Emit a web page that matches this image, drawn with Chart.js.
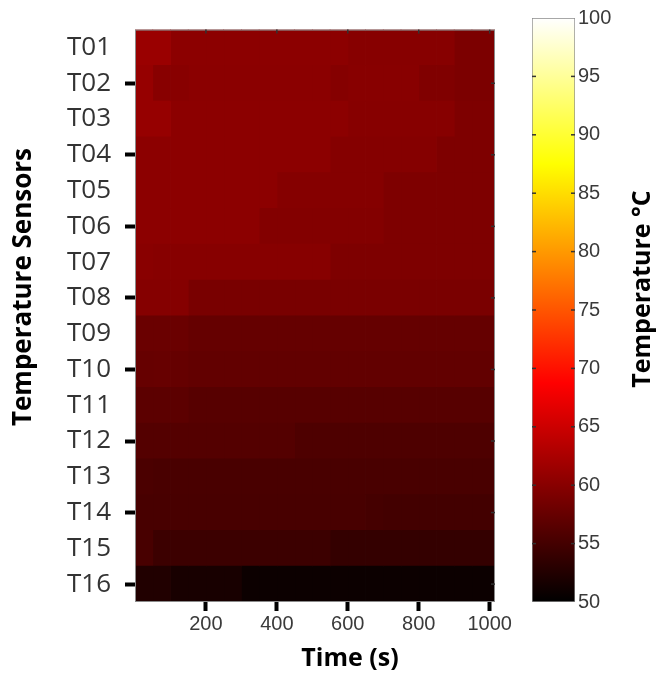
<!DOCTYPE html>
<html lang="en">
<head>
  <meta charset="UTF-8">
  <title>Temperature Sensors - Heat Map</title>
  <script src="https://cdn.jsdelivr.net/npm/chart.js"></script>
  <style>
    body { margin: 0; background: #fff; }
    #heatChart { position: absolute; left: 0; top: 0; }
    #barChart { position: absolute; left: 520px; top: 0; }
  </style>
</head>
<body>
  <canvas id="heatChart" width="520" height="677"></canvas>
  <canvas id="barChart" width="140" height="677"></canvas>

  <script>
    // Sensors (rows) and time columns (start of each 50 s column)
    const sensors = ['T01', 'T02', 'T03', 'T04', 'T05', 'T06', 'T07', 'T08',
                     'T09', 'T10', 'T11', 'T12', 'T13', 'T14', 'T15', 'T16'];
    const timeStarts = [0, 50, 100, 150, 200, 250, 300, 350, 400, 450,
                        500, 550, 600, 650, 700, 750, 800, 850, 900, 950];
    const timeEnd = 1015;
    const xTicks = [200, 400, 600, 800, 1000];
    const barTicks = [50, 55, 60, 65, 70, 75, 80, 85, 90, 95, 100];

    // Temperatures (°C) per sensor, one value per time column
    const t01 = [61.3, 61.3, 60.3, 60.3, 60.3, 60.3, 60.3, 60.3, 60.3, 60.3, 60.3, 60.3, 59.9, 59.9, 59.9, 59.9, 59.9, 59.9, 59.1, 59.1];
    const t02 = [61.0, 60.0, 60.0, 60.2, 60.2, 60.2, 60.2, 60.2, 60.2, 60.2, 60.2, 59.8, 60.0, 60.0, 60.0, 60.0, 59.4, 59.4, 59.1, 59.1];
    const t03 = [61.0, 61.0, 60.3, 60.3, 60.3, 60.3, 60.3, 60.3, 60.3, 60.3, 60.3, 60.3, 59.9, 59.9, 59.9, 59.9, 59.9, 59.9, 59.3, 59.3];
    const t04 = [60.3, 60.3, 60.3, 60.3, 60.3, 60.3, 60.3, 60.3, 60.3, 60.3, 60.3, 59.8, 59.8, 59.8, 59.8, 59.8, 59.8, 59.3, 59.3, 59.3];
    const t05 = [60.3, 60.3, 60.3, 60.3, 60.3, 60.3, 60.3, 60.3, 59.8, 59.8, 59.8, 59.8, 59.8, 59.8, 59.3, 59.3, 59.3, 59.3, 59.3, 59.3];
    const t06 = [60.3, 60.3, 60.3, 60.3, 60.3, 60.3, 60.3, 59.6, 59.6, 59.6, 59.6, 59.6, 59.6, 59.6, 59.3, 59.3, 59.3, 59.3, 59.3, 59.3];
    const t07 = [60.1, 59.9, 59.9, 59.9, 59.9, 59.9, 59.9, 59.9, 59.9, 59.9, 59.9, 59.3, 59.3, 59.3, 59.3, 59.3, 59.3, 59.3, 59.3, 59.3];
    const t08 = [59.8, 59.8, 59.8, 58.9, 58.9, 58.9, 58.9, 58.9, 58.9, 58.9, 58.9, 59.0, 59.0, 59.0, 59.0, 59.0, 59.0, 59.0, 59.0, 59.0];
    const t09 = [57.8, 57.8, 57.8, 57.4, 57.4, 57.4, 57.4, 57.4, 57.4, 57.4, 57.4, 57.4, 57.4, 57.4, 57.4, 57.4, 57.4, 57.4, 57.4, 57.4];
    const t10 = [57.5, 57.6, 57.4, 57.2, 57.2, 57.2, 57.2, 57.2, 57.2, 57.2, 57.2, 57.2, 57.2, 57.2, 57.2, 57.2, 57.2, 57.2, 57.2, 57.2];
    const t11 = [56.8, 56.8, 56.8, 56.4, 56.4, 56.4, 56.4, 56.4, 56.4, 56.4, 56.4, 56.4, 56.4, 56.4, 56.4, 56.4, 56.4, 56.4, 56.4, 56.4];
    const t12 = [56.2, 56.2, 56.2, 56.2, 56.2, 56.2, 56.2, 56.2, 56.2, 55.7, 55.7, 55.7, 55.7, 55.7, 55.7, 55.7, 55.7, 55.7, 55.7, 55.7];
    const t13 = [55.5, 55.4, 55.4, 55.4, 55.4, 55.4, 55.4, 55.4, 55.4, 55.4, 55.4, 55.4, 55.4, 55.4, 55.4, 55.4, 55.4, 55.4, 55.4, 55.4];
    const t14 = [55.3, 55.3, 55.3, 55.3, 55.3, 55.3, 55.3, 55.3, 55.3, 55.3, 55.3, 55.3, 55.3, 55.1, 54.9, 54.9, 54.9, 54.9, 54.9, 54.9];
    const t15 = [55.3, 54.4, 54.4, 54.4, 54.4, 54.4, 54.4, 54.4, 54.4, 54.4, 54.4, 53.8, 53.8, 53.8, 53.8, 53.8, 53.8, 53.8, 53.8, 53.8];
    const t16 = [52.4, 52.4, 51.8, 51.8, 51.8, 51.8, 50.9, 50.9, 50.9, 50.9, 50.9, 50.9, 50.9, 50.9, 50.9, 50.9, 50.9, 50.9, 50.9, 50.9];

    const rows = [t01, t02, t03, t04, t05, t06, t07, t08, t09, t10, t11, t12, t13, t14, t15, t16];
    const tMin = 50, tMax = 100;

    // "hot" colormap: black -> red -> yellow -> white
    function hot(v) {
      const f = Math.min(1, Math.max(0, (v - tMin) / (tMax - tMin)));
      const r = Math.min(1, f / 0.375);
      const g = Math.min(1, Math.max(0, (f - 0.375) / 0.375));
      const b = Math.max(0, (f - 0.75) / 0.25);
      return `rgb(${Math.round(r * 255)}, ${Math.round(g * 255)}, ${Math.round(b * 255)})`;
    }

    // one floating-bar dataset per time column
    const datasets = timeStarts.map((t0, c) => {
      const t1 = c + 1 < timeStarts.length ? timeStarts[c + 1] : timeEnd;
      return {
        data: rows.map(() => [t0, t1]),
        backgroundColor: rows.map(r => hot(r[c])),
        grouped: false,
        barPercentage: 1,
        categoryPercentage: 1,
        borderWidth: 0,
        inflateAmount: 0.4
      };
    });

    function rotatedText(ctx, text, x, y, font) {
      ctx.save();
      ctx.translate(x, y);
      ctx.rotate(-Math.PI / 2);
      ctx.fillStyle = '#000';
      ctx.font = font;
      ctx.textAlign = 'center';
      ctx.textBaseline = 'middle';
      ctx.fillText(text, 0, 0);
      ctx.restore();
    }

    // frame, small inward ticks and axis titles on the heat map
    const frameTicks = {
      id: 'frameTicks',
      afterDatasetsDraw(chart) {
        const { ctx, chartArea: a, scales } = chart;
        ctx.save();
        ctx.strokeStyle = '#8a8a8a';
        ctx.lineWidth = 1;
        ctx.strokeRect(a.left + 0.5, a.top + 0.5, a.right - a.left - 1, a.bottom - a.top - 1);
        ctx.strokeStyle = '#333';
        ctx.lineWidth = 1.5;
        xTicks.forEach(v => {
          const x = scales.x.getPixelForValue(v);
          ctx.beginPath(); ctx.moveTo(x, a.top); ctx.lineTo(x, a.top + 4); ctx.stroke();
        });
        sensors.forEach((s, i) => {
          if (i % 2 === 0) return;
          const y = scales.y.getPixelForValue(i);
          ctx.beginPath(); ctx.moveTo(a.right - 4, y); ctx.lineTo(a.right, y); ctx.stroke();
        });
        ctx.restore();
      },
      afterDraw(chart) {
        const { ctx } = chart;
        rotatedText(ctx, 'Temperature Sensors', 24, 287, 'bold 26px "Open Sans", sans-serif');
        ctx.save();
        ctx.fillStyle = '#000';
        ctx.font = 'bold 25px "Open Sans", sans-serif';
        ctx.textAlign = 'center';
        ctx.textBaseline = 'middle';
        ctx.fillText('Time (s)', 350, 659);
        ctx.restore();
      }
    };

    new Chart(document.getElementById('heatChart'), {
      type: 'bar',
      data: { labels: sensors, datasets: datasets },
      plugins: [frameTicks],
      options: {
        indexAxis: 'y',
        responsive: false,
        animation: false,
        layout: { padding: { top: 18, right: 25, left: 0, bottom: 0 } },
        plugins: { legend: { display: false }, tooltip: { enabled: false } },
        scales: {
          x: {
            type: 'linear',
            min: 0,
            max: timeEnd,
            afterBuildTicks: axis => { axis.ticks = xTicks.map(v => ({ value: v })); },
            afterFit: axis => { axis.height = 75; },
            grid: { drawOnChartArea: false, tickLength: 9, tickWidth: 4, tickColor: '#000' },
            border: { display: false },
            ticks: {
              color: '#3a3a3a',
              font: { family: 'Liberation Sans, Arial, sans-serif', size: 20 },
              padding: 1,
              maxRotation: 0,
              callback: v => String(v)
            }
          },
          y: {
            type: 'category',
            afterFit: axis => { axis.width = 135; },
            grid: {
              offset: false,
              drawOnChartArea: false,
              tickLength: 10,
              tickWidth: 4,
              tickColor: c => (c.index % 2 === 1 ? '#000' : 'rgba(0,0,0,0)')
            },
            border: { display: false },
            ticks: {
              autoSkip: false,
              color: '#333',
              font: { family: 'Open Sans, sans-serif', size: 26 },
              padding: 14
            }
          }
        }
      }
    });

    // colour bar
    const barDecor = {
      id: 'barDecor',
      afterDatasetsDraw(chart) {
        const { ctx, chartArea: a, scales } = chart;
        ctx.save();
        ctx.strokeStyle = '#333';
        ctx.lineWidth = 1.5;
        barTicks.forEach(v => {
          if (v === tMin || v === tMax) return;
          const y = scales.y.getPixelForValue(v);
          ctx.beginPath(); ctx.moveTo(a.left, y); ctx.lineTo(a.left + 4, y); ctx.stroke();
          ctx.beginPath(); ctx.moveTo(a.right - 4, y); ctx.lineTo(a.right, y); ctx.stroke();
        });
        ctx.restore();
      },
      afterDraw(chart) {
        rotatedText(chart.ctx, 'Temperature °C', 123, 289, 'bold 25px "Open Sans", sans-serif');
      }
    };

    new Chart(document.getElementById('barChart'), {
      type: 'bar',
      data: {
        labels: [''],
        datasets: [{
          data: [[tMin, tMax]],
          backgroundColor: context => {
            const chart = context.chart;
            if (!chart.chartArea) return '#000';
            const y = chart.scales.y;
            const g = chart.ctx.createLinearGradient(0, y.getPixelForValue(tMin), 0, y.getPixelForValue(tMax));
            g.addColorStop(0, '#000000');
            g.addColorStop(0.375, '#ff0000');
            g.addColorStop(0.75, '#ffff00');
            g.addColorStop(1, '#ffffff');
            return g;
          },
          borderColor: '#8a8a8a',
          borderWidth: 1,
          borderSkipped: false,
          barPercentage: 1,
          categoryPercentage: 1
        }]
      },
      plugins: [barDecor],
      options: {
        responsive: false,
        animation: false,
        layout: { padding: { top: 18, left: 12, right: 0, bottom: 75 } },
        plugins: { legend: { display: false }, tooltip: { enabled: false } },
        scales: {
          x: { display: false },
          y: {
            position: 'right',
            min: tMin,
            max: tMax,
            afterBuildTicks: axis => { axis.ticks = barTicks.map(v => ({ value: v })); },
            afterFit: axis => { axis.width = 85; },
            grid: { display: false, drawTicks: false, tickLength: 0 },
            border: { display: false },
            ticks: {
              color: '#3a3a3a',
              font: { family: 'Liberation Sans, Arial, sans-serif', size: 20 },
              padding: 3
            }
          }
        }
      }
    });
  </script>
</body>
</html>
